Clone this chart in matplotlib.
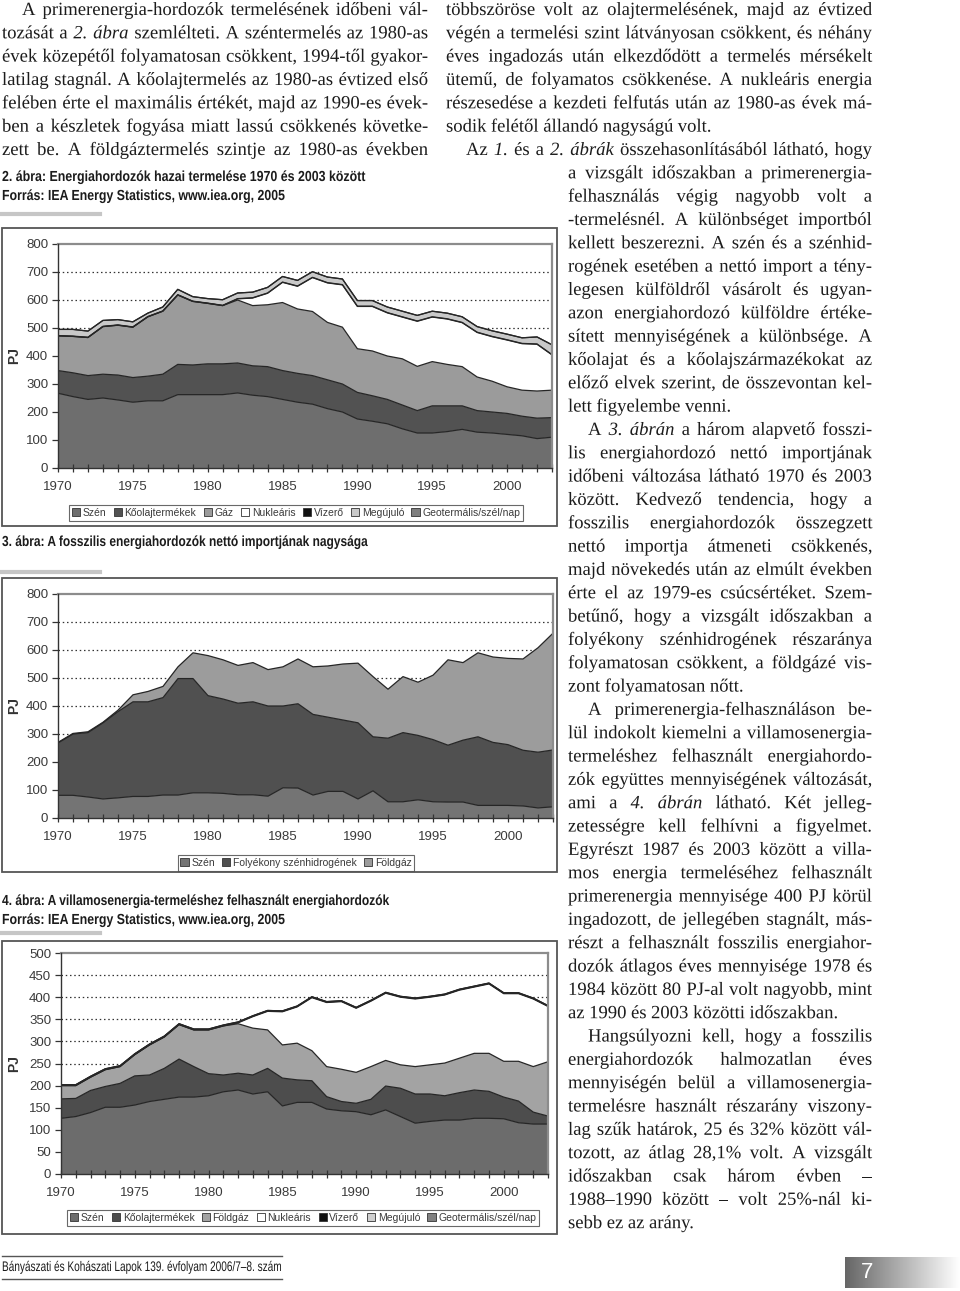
import numpy as np
import matplotlib
matplotlib.use('Agg')
import matplotlib.pyplot as plt
from matplotlib.patches import Rectangle
from matplotlib.font_manager import FontProperties
from matplotlib.patheffects import AbstractPathEffect, Normal
from matplotlib.transforms import Affine2D

W, H = 960, 1291

YEARS = list(range(1970, 2004))
X_LABELS = [1970, 1975, 1980, 1985, 1990, 1995, 2000]

# 2. ábra: hazai termelés, PJ
PROD_LABELS = ['Szén', 'Kőolajtermékek', 'Gáz', 'Nukleáris', 'Vízerő', 'Megújuló', 'Geotermális/szél/nap']
prod_szen = [267, 255, 245, 250, 243, 235, 240, 240, 262, 262, 262, 262, 268, 260, 255, 245, 235,
             228, 212, 200, 175, 167, 158, 140, 125, 125, 130, 138, 128, 125, 120, 115, 105, 110]
prod_olaj = [81, 85, 85, 85, 89, 88, 88, 95, 108, 106, 110, 110, 107, 105, 107, 103, 103,
             102, 103, 100, 95, 91, 87, 85, 80, 97, 92, 84, 77, 75, 75, 70, 73, 70]
prod_gaz = [124, 130, 136, 170, 178, 180, 212, 225, 248, 227, 216, 208, 225, 215, 221, 243, 230,
            229, 205, 203, 156, 160, 155, 165, 158, 158, 148, 140, 120, 110, 95, 93, 97, 98]
prod_nuk = [0, 0, 0, 0, 0, 0, 0, 0, 0, 0, 0, 0, 4, 27, 41, 72, 81,
            121, 141, 151, 151, 159, 154, 149, 161, 159, 162, 157, 159, 159, 167, 166, 167, 126]
prod_viz = [1, 1, 1, 1, 1, 1, 1, 1, 1, 1, 1, 1, 1, 1, 1, 1, 1,
            1, 1, 1, 1, 1, 1, 1, 1, 1, 1, 1, 1, 1, 1, 1, 1, 1]
prod_megujulo = [22, 24, 22, 21, 19, 18, 12, 14, 19, 16, 16, 20, 20, 20, 20, 20, 20,
                 20, 20, 20, 20, 20, 20, 20, 20, 20, 20, 20, 20, 20, 20, 20, 25, 35]
prod_geo = [0, 0, 0, 0, 0, 0, 0, 0, 0, 0, 0, 0, 0, 0, 0, 0, 0,
            0, 0, 0, 0, 0, 0, 0, 0, 0, 0, 0, 0, 0, 0, 0, 0, 0]

# 3. ábra: nettó import, PJ
IMP_LABELS = ['Szén', 'Folyékony szénhidrogének', 'Földgáz']
imp_szen = [81, 81, 75, 68, 72, 77, 77, 82, 82, 90, 90, 88, 83, 83, 78, 108, 107,
            82, 95, 95, 68, 97, 58, 58, 65, 58, 57, 57, 45, 45, 45, 43, 36, 40]
imp_foly = [187, 219, 230, 272, 308, 338, 338, 348, 416, 408, 347, 337, 327, 332, 322, 292, 301,
            288, 265, 255, 272, 193, 227, 247, 230, 222, 203, 221, 245, 225, 217, 199, 199, 203]
imp_gaz = [2, 2, 3, 2, 5, 25, 37, 40, 42, 92, 143, 140, 135, 140, 130, 140, 160,
           170, 183, 200, 213, 215, 175, 200, 190, 230, 305, 277, 300, 305, 308, 326, 373, 417]

# 4. ábra: villamosenergia-termelés, PJ
EL_LABELS = ['Szén', 'Kőolajtermékek', 'Földgáz', 'Nukleáris', 'Vízerő', 'Megújuló', 'Geotermális/szél/nap']
el_szen = [126, 130, 139, 151, 151, 156, 164, 169, 174, 174, 177, 186, 190, 181, 186, 154, 162,
           162, 147, 143, 141, 134, 145, 130, 115, 119, 122, 122, 126, 126, 125, 116, 113, 113]
el_olaj = [44, 41, 50, 47, 54, 66, 60, 70, 86, 69, 50, 38, 38, 43, 53, 63, 51,
           49, 28, 21, 19, 35, 54, 64, 66, 62, 55, 62, 64, 61, 49, 49, 27, 18]
el_gaz = [30, 29, 30, 38, 38, 48, 68, 71, 78, 83, 99, 111, 112, 106, 87, 75, 83,
          68, 68, 73, 70, 74, 58, 53, 62, 66, 74, 78, 83, 86, 81, 90, 103, 123]
el_nuk = [0, 0, 0, 0, 0, 0, 0, 0, 0, 0, 0, 0, 2, 26, 42, 75, 82,
          120, 145, 153, 145, 148, 152, 153, 153, 153, 154, 154, 150, 157, 153, 153, 153, 125]
el_viz = [1, 1, 1, 1, 1, 1, 1, 1, 1, 1, 1, 1, 1, 1, 1, 1, 1,
          1, 1, 1, 1, 1, 1, 1, 1, 1, 1, 1, 1, 1, 1, 1, 1, 1]
el_megujulo = [1, 1, 1, 1, 1, 1, 1, 1, 1, 1, 1, 1, 1, 1, 1, 1, 1,
               1, 1, 1, 1, 1, 1, 1, 1, 1, 1, 1, 1, 1, 1, 1, 1, 1]
el_geo = [0, 0, 0, 0, 0, 0, 0, 0, 0, 0, 0, 0, 0, 0, 0, 0, 0,
          0, 0, 0, 0, 0, 0, 0, 0, 0, 0, 0, 0, 0, 0, 0, 0, 0]

# body text, '*' marks an italic word
LEFT_LINES = [
    "A primerenergia-hordozók termelésének időbeni vál-",
    "tozását a *2. *ábra szemlélteti. A széntermelés az 1980-as",
    "évek közepétől folyamatosan csökkent, 1994-től gyakor-",
    "latilag stagnál. A kőolajtermelés az 1980-as évtized első",
    "felében érte el maximális értékét, majd az 1990-es évek-",
    "ben a készletek fogyása miatt lassú csökkenés követke-",
    "zett be. A földgáztermelés szintje az 1980-as években",
]
RIGHT_LINES = [
    "többszöröse volt az olajtermelésének, majd az évtized",
    "végén a termelési szint látványosan csökkent, és néhány",
    "éves ingadozás után elkezdődött a termelés mérsékelt",
    "ütemű, de folyamatos csökkenése. A nukleáris energia",
    "részesedése a kezdeti felfutás után az 1980-as évek má-",
    "sodik felétől állandó nagyságú volt.",
    "Az *1. és a *2. *ábrák összehasonlításából látható, hogy",
    "a vizsgált időszakban a primerenergia-",
    "felhasználás végig nagyobb volt a",
    "-termelésnél. A különbséget importból",
    "kellett beszerezni. A szén és a szénhid-",
    "rogének esetében a nettó import a tény-",
    "legesen külföldről vásárolt és ugyan-",
    "azon energiahordozó külföldre értéke-",
    "sített mennyiségének a különbsége. A",
    "kőolajat és a kőolajszármazékokat az",
    "előző elvek szerint, de összevontan kel-",
    "lett figyelembe venni.",
    "A *3. *ábrán a három alapvető fosszi-",
    "lis energiahordozó nettó importjának",
    "időbeni változása látható 1970 és 2003",
    "között. Kedvező tendencia, hogy a",
    "fosszilis energiahordozók összegzett",
    "nettó importja átmeneti csökkenés,",
    "majd növekedés után az elmúlt években",
    "érte el az 1979-es csúcsértéket. Szem-",
    "betűnő, hogy a vizsgált időszakban a",
    "folyékony szénhidrogének részaránya",
    "folyamatosan csökkent, a földgázé vis-",
    "zont folyamatosan nőtt.",
    "A primerenergia-felhasználáson be-",
    "lül indokolt kiemelni a villamosenergia-",
    "termeléshez felhasznált energiahordo-",
    "zók együttes mennyiségének változását,",
    "ami a *4. *ábrán látható. Két jelleg-",
    "zetességre kell felhívni a figyelmet.",
    "Egyrészt 1987 és 2003 között a villa-",
    "mos energia termeléséhez felhasznált",
    "primerenergia mennyisége 400 PJ körül",
    "ingadozott, de jellegében stagnált, más-",
    "részt a felhasznált fosszilis energiahor-",
    "dozók átlagos éves mennyisége 1978 és",
    "1984 között 80 PJ-al volt nagyobb, mint",
    "az 1990 és 2003 közötti időszakban.",
    "Hangsúlyozni kell, hogy a fosszilis",
    "energiahordozók halmozatlan éves",
    "mennyiségén belül a villamosenergia-",
    "termelésre használt részarány viszony-",
    "lag szűk határok, 25 és 32% között vál-",
    "tozott, az átlag 28,1% volt. A vizsgált",
    "időszakban csak három évben –",
    "1988–1990 között – volt 25%-nál ki-",
    "sebb ez az arány.",
]
RIGHT_INDENT = {6, 18, 30, 44}
RIGHT_LAST = {5, 17, 29, 43, 52}

plt.rcParams['font.family'] = 'Liberation Sans'
INK = '#1c1c1c'

fig = plt.figure(figsize=(W / 100, H / 100), dpi=100)
renderer = fig.canvas.get_renderer()

page = fig.add_axes([0, 0, 1, 1])
page.set_xlim(0, W)
page.set_ylim(H, 0)
page.axis('off')

SERIF = FontProperties(family='Liberation Serif', size=12.0)
SERIF_IT = FontProperties(family='Liberation Serif', style='italic', size=12.0)
CAPTION = FontProperties(family='Liberation Sans', weight='bold', size=10.5)
FOOT = FontProperties(family='Liberation Sans', size=10.0)


def text_w(s, prop):
    return renderer.get_text_width_height_descent(s, prop, ismath=False)[0]


def split_words(line):
    words = line.split(' ')
    props = [SERIF_IT if w.startswith('*') else SERIF for w in words]
    return [w.lstrip('*') for w in words], props


def column_spans():
    spans = []
    for k, line in enumerate(LEFT_LINES):
        spans.append((line, 2, 428, k, True, 20 if k == 0 else 0))
    for k, line in enumerate(RIGHT_LINES):
        x0 = 446 if k <= 6 else 568
        spans.append((line, x0, 872, k, k not in RIGHT_LAST, 20 if k in RIGHT_INDENT else 0))
    return spans


def space_w():
    return text_w('a a', SERIF) - text_w('aa', SERIF)


# pick the type size so the tightest justified line just fits its column
ratios = []
sp = space_w()
for line, x0, x1, k, just, ind in column_spans():
    if just:
        words, props = split_words(line)
        nat = sum(text_w(w, p) for w, p in zip(words, props)) + sp * (len(words) - 1)
        ratios.append((x1 - x0 - ind) / nat)
body_size = 12.0 * min(ratios) * 0.995
SERIF.set_size(body_size)
SERIF_IT.set_size(body_size)
SPACE = space_w()
LINE0, LEAD = 9, 23.33


def put_line(line, x0, x1, y, justify, indent=0):
    words, props = split_words(line)
    widths = [text_w(w, p) for w, p in zip(words, props)]
    x = x0 + indent
    gap = SPACE
    if justify and len(words) > 1:
        gap = (x1 - x - sum(widths)) / (len(words) - 1)
    for w, p, wd in zip(words, props, widths):
        # drawn as outlines so every word sits on exactly the same baseline
        page.text(x, y, w, fontproperties=p, va='baseline', ha='left', color=INK,
                  path_effects=[Normal()])
        x += wd + gap


for line, x0, x1, k, just, ind in column_spans():
    put_line(line, x0, x1, LINE0 + LEAD * k + 6, just, ind)


class Squeeze(AbstractPathEffect):
    """Narrow the glyphs horizontally around the text's left edge."""

    def __init__(self, sx, x0):
        super().__init__()
        self._sx, self._x0 = sx, x0

    def draw_path(self, renderer, gc, tpath, affine, rgbFace=None):
        sq = Affine2D().translate(-self._x0, 0).scale(self._sx, 1).translate(self._x0, 0)
        renderer.draw_path(gc, tpath, affine + sq, rgbFace)


def narrow_text(x, y, s, width, prop, **kw):
    sx = width / text_w(s, prop)
    x_disp = page.transData.transform((x, y))[0]
    page.text(x, y, s, fontproperties=prop, va='center', ha='left',
              path_effects=[Squeeze(sx, x_disp)], **kw)


narrow_text(2, 177, '2. ábra: Energiahordozók hazai termelése 1970 és 2003 között', 366, CAPTION, color=INK)
narrow_text(2, 196, 'Forrás: IEA Energy Statistics, www.iea.org, 2005', 285, CAPTION, color=INK)
page.plot([2, 100], [214, 214], color='#c6c6c6', lw=3)
narrow_text(2, 542, '3. ábra: A fosszilis energiahordozók nettó importjának nagysága', 368, CAPTION, color=INK)
page.plot([2, 100], [572, 572], color='#c6c6c6', lw=3)
narrow_text(2, 901, '4. ábra: A villamosenergia-termeléshez felhasznált energiahordozók', 390, CAPTION, color=INK)
narrow_text(2, 920, 'Forrás: IEA Energy Statistics, www.iea.org, 2005', 285, CAPTION, color=INK)
page.plot([2, 100], [933, 933], color='#c6c6c6', lw=3)

# footer
page.plot([2, 282], [1256, 1256], color='#555555', lw=1)
page.plot([2, 282], [1279, 1279], color='#555555', lw=1)
narrow_text(2, 1267, 'Bányászati és Kohászati Lapok 139. évfolyam 2006/7–8. szám', 280, FOOT, color=INK)

# page number tab
page.imshow(np.linspace(0.40, 1.0, 256)[None, :], extent=[845, 960, 1288, 1257],
            cmap='gray', vmin=0, vmax=1, aspect='auto', interpolation='bilinear')
page.text(867, 1273, '7', color='white', fontsize=16, ha='center', va='center')
page.set_xlim(0, W)
page.set_ylim(H, 0)


def px_axes(x0, y0, x1, y1):
    return fig.add_axes([x0 / W, 1 - y1 / H, (x1 - x0) / W, (y1 - y0) / H])


def area_chart(frame, plot, ymax, ystep, layers, colors, labels, legend_c):
    fx0, fy0, fx1, fy1 = frame
    page.add_patch(Rectangle((fx0, fy0), fx1 - fx0, fy1 - fy0, fill=False,
                             edgecolor='#555555', lw=1.3))
    ax = px_axes(*plot)
    ax.set_xlim(1970, 2003)
    ax.set_ylim(0, ymax)
    for yv in range(ystep, ymax, ystep):
        ax.axhline(yv, color='#333333', lw=0.9, ls=(0, (1.2, 2.2)), zorder=0.5)
    ax.stackplot(YEARS, *layers, colors=colors, linewidth=0, zorder=1)
    tops = np.cumsum(np.array(layers, dtype=float), axis=0)
    for top in tops:
        ax.plot(YEARS, top, color='#262626', lw=0.9, zorder=2)

    ax.set_xticks(YEARS)
    ax.set_xticklabels([str(y) if y in X_LABELS else '' for y in YEARS])
    ax.set_yticks(range(0, ymax + 1, ystep))
    ax.tick_params(axis='x', direction='inout', length=6, width=0.9, color='#333333',
                   labelsize=9.5, labelcolor='#3a3a3a', pad=6)
    ax.tick_params(axis='y', direction='out', length=4, width=0.9, color='#333333',
                   labelsize=9.5, labelcolor='#3a3a3a', pad=3)
    for side in ('top', 'right'):
        ax.spines[side].set_color('#8c8c8c')
        ax.spines[side].set_linewidth(1.6)
    for side in ('left', 'bottom'):
        ax.spines[side].set_color('#333333')
        ax.spines[side].set_linewidth(1.0)
        ax.spines[side].set_zorder(3)

    handles = [Rectangle((0, 0), 1, 1, facecolor=c, edgecolor='#333333', lw=0.6) for c in colors]
    leg = ax.legend(handles, labels, loc='center', bbox_to_anchor=(legend_c[0] / W, 1 - legend_c[1] / H),
                    bbox_transform=fig.transFigure, ncol=len(labels), fontsize=7.5,
                    frameon=True, fancybox=False, borderpad=0.25, handlelength=0.8,
                    handleheight=0.8, handletextpad=0.25, columnspacing=0.7, borderaxespad=0)
    leg.get_frame().set_edgecolor('#444444')
    leg.get_frame().set_linewidth(0.8)
    for t in leg.get_texts():
        t.set_color('#3a3a3a')

    page.text(14, (plot[1] + plot[3]) / 2, 'PJ', rotation=90, fontweight='bold', fontsize=10,
              ha='center', va='center', color='#333333')
    return ax


prod_colors = ['#6e6e6e', '#525252', '#9b9b9b', '#ffffff', '#111111', '#c9c9c9', '#7f7f7f']
area_chart((2, 228, 557, 526), (58, 244, 552, 468), 800, 100,
           [prod_szen, prod_olaj, prod_gaz, prod_nuk, prod_viz, prod_megujulo, prod_geo],
           prod_colors, PROD_LABELS, (296, 513))

imp_colors = ['#747474', '#505050', '#9c9c9c']
area_chart((2, 578, 557, 872), (58, 594, 553, 818), 800, 100,
           [imp_szen, imp_foly, imp_gaz], imp_colors, IMP_LABELS, (296, 863))

el_colors = ['#6c6c6c', '#4d4d4d', '#a3a3a3', '#ffffff', '#111111', '#cfcfcf', '#808080']
area_chart((2, 941, 557, 1234), (61, 953, 548, 1174), 500, 50,
           [el_szen, el_olaj, el_gaz, el_nuk, el_viz, el_megujulo, el_geo],
           el_colors, EL_LABELS, (303, 1218))

fig.savefig('out.png', dpi=100)
